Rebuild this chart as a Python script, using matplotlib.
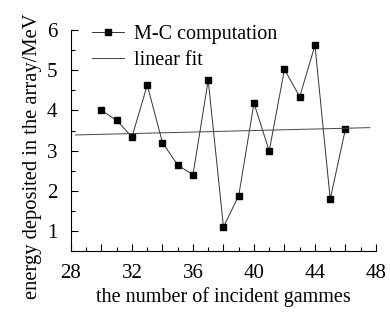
import numpy as np
import matplotlib.pyplot as plt
from matplotlib.ticker import MultipleLocator, FuncFormatter

plt.rcParams['font.family'] = ['Liberation Serif', 'DejaVu Serif']

gammas = [30, 31, 32, 33, 34, 35, 36, 37, 38, 39, 40, 41, 42, 43, 44, 45, 46]
energy = [4.0, 3.75, 3.34, 4.63, 3.2, 2.64, 2.4, 4.75, 1.1, 1.88,
          4.18, 2.99, 5.02, 4.34, 5.62, 1.79, 3.54]
fit_range = [28.3, 47.6]

fig = plt.figure(figsize=(3.9, 3.12), dpi=100)
ax = fig.add_axes([0.182, 0.195, 0.782, 0.709])

ax.plot(gammas, energy, color='#333333', lw=0.7, marker='s', ms=4.2,
        mfc='black', mec='black', label='M-C computation')

slope, icpt = np.polyfit(gammas, energy, 1)
xf = np.array(fit_range)
ax.plot(xf, slope * xf + icpt, color='#444444', lw=0.7, label='linear fit')

ax.set_xlim(28, 48)
ax.set_ylim(0.5, 6)
ax.xaxis.set_major_locator(MultipleLocator(2))
ax.xaxis.set_minor_locator(MultipleLocator(1))
ax.xaxis.set_major_formatter(FuncFormatter(lambda v, p: f'{v:.0f}' if int(round(v)) % 4 == 0 else ''))
ax.yaxis.set_major_locator(MultipleLocator(1))
ax.yaxis.set_minor_locator(MultipleLocator(0.5))
ax.set_yticks([1, 2, 3, 4, 5, 6])

ax.tick_params(which='both', direction='in', labelsize=15, width=0.8)
ax.tick_params(which='major', length=5)
ax.tick_params(which='minor', length=3)
ax.tick_params(axis='x', pad=9)
ax.tick_params(axis='y', pad=10)

for s in ['top', 'right']:
    ax.spines[s].set_visible(False)
for s in ['left', 'bottom']:
    ax.spines[s].set_linewidth(0.8)

ax.set_xlabel('the number of incident gammes', fontsize=14.5, labelpad=3)
# y label sits centred on the figure, not on the axes
fig.text(0.083, 0.5, 'energy deposited in the array/MeV', fontsize=14.8,
         rotation=90, ha='center', va='center')

ax.legend(loc='upper left', frameon=False, fontsize=14.5, handlelength=1.6,
          handletextpad=0.5, borderaxespad=0.1, labelspacing=0.35,
          bbox_to_anchor=(0.035, 1.07))

fig.savefig('out.png', dpi=100)
